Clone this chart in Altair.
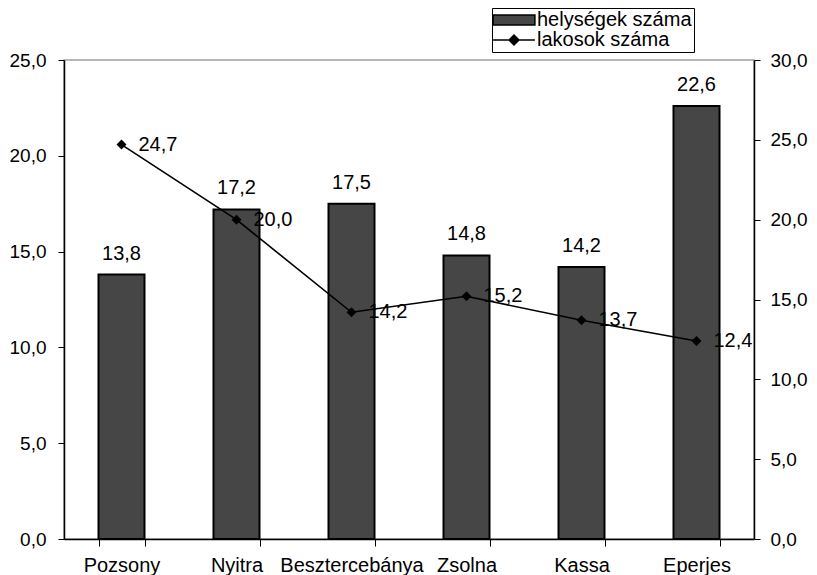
import altair as alt
import pandas as pd

regions = ["Pozsony", "Nyitra", "Besztercebánya", "Zsolna", "Kassa", "Eperjes"]
helysegek = [13.8, 17.2, 17.5, 14.8, 14.2, 22.6]
lakosok = [24.7, 20.0, 14.2, 15.2, 13.7, 12.4]
series = ["helységek száma", "lakosok száma"]
left_ticks = [0, 5, 10, 15, 20, 25]
right_ticks = [0, 5, 10, 15, 20, 25, 30]

df = pd.DataFrame({"region": regions, "helysegek": helysegek, "lakosok": lakosok})
leg_df = pd.DataFrame({"series": series})

FONT = "Liberation Sans"
FS = 20
AFS = 19
BAR_FILL = "#464646"
LBL = "replace(format(datum.value, '.1f'), '.', ',')"
PAD = "\u2003" * 3

xenc = alt.X(
    "region:N", sort=regions, title=None,
    scale=alt.Scale(paddingInner=0.6, paddingOuter=0.3),
    axis=alt.Axis(tickBand="extent", labelAngle=0, tickSize=7, tickColor="black",
                  tickWidth=1, domainColor="black", domainWidth=1.5, labelPadding=9,
                  labelFontSize=FS, labelFont=FONT, labelColor="black", zindex=1),
)

yleft = alt.Y(
    "helysegek:Q", title=None,
    scale=alt.Scale(domain=[0, 25], nice=False),
    axis=alt.Axis(orient="left", values=left_ticks, labelExpr=LBL, grid=False,
                  tickSize=6, tickColor="black", tickWidth=1, domainColor="black",
                  domainWidth=1.5, labelPadding=12, labelFontSize=AFS, labelFont=FONT,
                  labelColor="black", zindex=1),
)
yright = alt.Y(
    "lakosok:Q", title=None,
    scale=alt.Scale(domain=[0, 30], nice=False),
    axis=alt.Axis(orient="right", values=right_ticks, labelExpr=LBL, grid=False,
                  tickSize=6, tickColor="black", tickWidth=1, domainColor="black",
                  domainWidth=1.5, labelPadding=10, labelFontSize=AFS, labelFont=FONT,
                  labelColor="black", zindex=1),
)

base = alt.Chart(df).encode(x=xenc)

bars = base.mark_bar(fill=BAR_FILL, stroke="black", strokeWidth=2).encode(y=yleft)
bar_labels = base.transform_calculate(
    lbl="replace(format(datum.helysegek, '.1f'), '.', ',')"
).mark_text(baseline="bottom", dy=-11, fontSize=FS, font=FONT, color="black").encode(
    y=yleft, text="lbl:N"
)
left = alt.layer(bars, bar_labels)

line = base.mark_line(color="black", strokeWidth=1.6).encode(y=yright)
pts = base.mark_point(shape="diamond", filled=True, color="black", size=100, opacity=1).encode(y=yright)
line_labels = base.transform_calculate(
    lbl="replace(format(datum.lakosok, '.1f'), '.', ',')"
).mark_text(align="left", baseline="middle", dx=17, fontSize=FS, font=FONT, color="black").encode(
    y=yright, text="lbl:N"
)
right = alt.layer(line, pts, line_labels)

rect_path = "M-3.8,-0.9H3.8V0.9H-3.8Z"
line_path = "M-3.8,0H3.8M-0.9,0L0,-0.9L0.9,0L0,0.9Z"

leg = alt.Legend(
    title=None, orient="none", legendX=428, legendY=-52,
    symbolSize=121, symbolOffset=10, labelOffset=13, labelLimit=400,
    labelFont=FONT, labelFontSize=FS, labelColor="black",
    strokeColor="black", fillColor="white", padding=2, rowPadding=0,
    symbolStrokeWidth=1.5, symbolOpacity=1,
    labelExpr="datum.label + '" + PAD + "'",
)
legend_layer = alt.Chart(leg_df).mark_point(filled=True, opacity=0).encode(
    shape=alt.Shape("series:N", scale=alt.Scale(domain=series, range=[rect_path, line_path]), legend=leg),
    fill=alt.Fill("series:N", scale=alt.Scale(domain=series, range=[BAR_FILL, "black"]), legend=leg),
    stroke=alt.Stroke("series:N", scale=alt.Scale(domain=series, range=["black", "black"]), legend=leg),
)

chart = alt.layer(left, right, legend_layer).resolve_scale(y="independent").properties(
    width=690, height=479, autosize="none",
    padding={"left": 56, "top": 52, "right": 55, "bottom": 36},
).configure_view(stroke="#a0a0a0", strokeWidth=1.5)

chart.save("out.html", embed_options={"renderer": "svg", "actions": False})
